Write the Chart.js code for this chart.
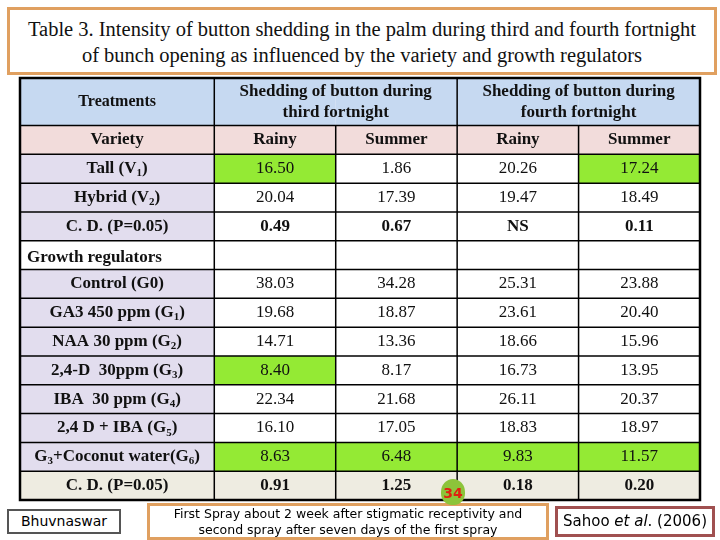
<!DOCTYPE html>
<html>
<head>
<meta charset="utf-8">
<script src="https://cdn.jsdelivr.net/npm/chart.js@4"></script>
<style>
  body { margin: 0; background: #fff; }
  #wrap { position: relative; width: 720px; height: 540px; }
  canvas { position: absolute; left: 0; top: 0; }
  .box { position: absolute; background: #fff; text-align: center; box-sizing: border-box; }
  #title { left: 7px; top: 7px; width: 710px; height: 68px; border: 3px solid #e0a060;
           font: 20.5px "Liberation Serif", serif; line-height: 26px; padding-top: 6px; color: #111; }
  #place { left: 7px; top: 509px; width: 114px; height: 25px; border: 2px solid #555;
           font: 14px "DejaVu Sans", sans-serif; line-height: 21px; }
  #note { left: 147px; top: 503px; width: 402px; height: 37px; border: 3px solid #e0a060;
          font: 12.5px "DejaVu Sans", sans-serif; line-height: 16px; }
  #ref { left: 555px; top: 506px; width: 160px; height: 31px; border: 3px solid #a05050;
         font: 15px "DejaVu Sans", sans-serif; line-height: 25px; }
  #page { left: 441px; top: 479px; width: 24px; height: 26px; border-radius: 50% 50% 45% 45%;
          background: #8cc43a; color: #e02010; font: bold 14px "DejaVu Sans", sans-serif; line-height: 28px; }
</style>
</head>
<body>
<div id="wrap">
  <canvas id="tbl" width="720" height="540"></canvas>
  <div class="box" id="title">Table 3. Intensity of button shedding in the palm during third and fourth fortnight<br>of bunch opening as influenced by the variety and growth regulators</div>
  <div class="box" id="place">Bhuvnaswar</div>
  <div class="box" id="note">First Spray about 2 week after stigmatic receptivity and<br>second spray after seven days of the first spray</div>
  <div class="box" id="ref">Sahoo <i>et al</i>. (2006)</div>
  <div class="box" id="page">34</div>
</div>
<script>
// table content
var groupHeaders = ["Shedding of button during\nthird fortnight", "Shedding of button during\nfourth fortnight"];
var seasons = ["Rainy", "Summer", "Rainy", "Summer"];
var treatments = ["Tall (V_1)", "Hybrid (V_2)", "C. D. (P=0.05)", "Growth regulators",
  "Control (G0)", "GA3 450 ppm (G_1)", "NAA 30 ppm (G_2)", "2,4-D  30ppm (G_3)", "IBA  30 ppm (G_4)",
  "2,4 D + IBA (G_5)", "G_3+Coconut water(G_6)", "C. D. (P=0.05)"];
var rainy3 = ["16.50", "20.04", "0.49", "", "38.03", "19.68", "14.71", "8.40", "22.34", "16.10", "8.63", "0.91"];
var summer3 = ["1.86", "17.39", "0.67", "", "34.28", "18.87", "13.36", "8.17", "21.68", "17.05", "6.48", "1.25"];
var rainy4 = ["20.26", "19.47", "NS", "", "25.31", "23.61", "18.66", "16.73", "26.11", "18.83", "9.83", "0.18"];
var summer4 = ["17.24", "18.49", "0.11", "", "23.88", "20.40", "15.96", "13.95", "20.37", "18.97", "11.57", "0.20"];
// cells marked green in the source
var highlighted = [[0, 0], [0, 3], [7, 0], [10, 0], [10, 1], [10, 2], [10, 3]];

var columns = [rainy3, summer3, rainy4, summer4];
var colEdges = [0, 1.6, 2.6, 3.6, 4.6, 5.6];
var headH = 1.65;
var SERIF = '"Liberation Serif", "Times New Roman", serif';
var FS = 17;

function rowTop(r) { return r === 0 ? 0 : headH + (r - 1); } // r: 0 header, 1 variety, 2.. rows
function rowBot(r) { return r === 0 ? headH : headH + r; }

function drawRich(ctx, txt, cx, cy, size, bold, align) {
  var parts = txt.split(/(_\d)/).filter(function (p) { return p; });
  var f = (bold ? 'bold ' : '') + size + 'px ' + SERIF;
  var fs = (bold ? 'bold ' : '') + Math.round(size * 0.65) + 'px ' + SERIF;
  var w = 0;
  parts.forEach(function (p) {
    ctx.font = p[0] === '_' ? fs : f;
    w += ctx.measureText(p[0] === '_' ? p.slice(1) : p).width;
  });
  var x = align === 'left' ? cx : cx - w / 2;
  ctx.textAlign = 'left';
  ctx.textBaseline = 'middle';
  parts.forEach(function (p) {
    if (p[0] === '_') {
      ctx.font = fs; ctx.fillText(p.slice(1), x, cy + size * 0.28);
      x += ctx.measureText(p.slice(1)).width;
    } else {
      ctx.font = f; ctx.fillText(p, x, cy);
      x += ctx.measureText(p).width;
    }
  });
}

var tablePlugin = {
  id: 'tablePlugin',
  afterDraw: function (chart) {
    var ctx = chart.ctx, xs = chart.scales.x, ys = chart.scales.y;
    var X = function (v) { return xs.getPixelForValue(v); };
    var Y = function (v) { return ys.getPixelForValue(v); };
    var nRows = treatments.length + 2;
    ctx.save();
    function cell(c0, c1, r, fill) {
      ctx.fillStyle = fill;
      ctx.fillRect(X(colEdges[c0]), Y(rowTop(r)), X(colEdges[c1]) - X(colEdges[c0]), Y(rowBot(r)) - Y(rowTop(r)));
    }
    // backgrounds
    for (var r = 0; r < nRows; r++) {
      for (var c = 0; c < 5; c++) {
        var fill = '#ffffff';
        if (r === 0) fill = '#c6d9f1';
        else if (r === 1) fill = '#f2dcdb';
        else if (r === nRows - 1) fill = '#eeece1';
        else if (c === 0) fill = treatments[r - 2] === 'Growth regulators' ? '#ffffff' : '#e2ddee';
        cell(c, c + 1, r, fill);
      }
    }
    highlighted.forEach(function (h) { cell(h[1] + 1, h[1] + 2, h[0] + 2, '#94ea34'); });
    // grid lines
    ctx.strokeStyle = '#000'; ctx.lineWidth = 1.5;
    for (r = 0; r <= nRows; r++) {
      var yy = Y(r === 0 ? 0 : rowBot(r - 1));
      ctx.beginPath(); ctx.moveTo(X(0), yy); ctx.lineTo(X(colEdges[5]), yy); ctx.stroke();
    }
    colEdges.forEach(function (e, i) {
      ctx.beginPath();
      ctx.moveTo(X(e), Y(i === 2 || i === 4 ? headH : 0));
      ctx.lineTo(X(e), Y(rowBot(nRows - 1)));
      ctx.stroke();
    });
    ctx.lineWidth = 2.5;
    ctx.strokeRect(X(0), Y(0), X(colEdges[5]) - X(0), Y(rowBot(nRows - 1)) - Y(0));
    // texts
    ctx.fillStyle = '#111';
    var mid = function (a, b) { return (a + b) / 2; };
    drawRich(ctx, 'Treatments', X(mid(colEdges[0], colEdges[1])), Y(headH / 2), 16, true);
    groupHeaders.forEach(function (g, i) {
      var cx = X(mid(colEdges[1 + 2 * i], colEdges[3 + 2 * i]));
      g.split('\n').forEach(function (ln, k) { drawRich(ctx, ln, cx, Y(headH / 2) + (k - 0.5) * 21, FS, true); });
    });
    drawRich(ctx, 'Variety', X(mid(colEdges[0], colEdges[1])), Y(mid(rowTop(1), rowBot(1))), FS, true);
    seasons.forEach(function (s, i) {
      drawRich(ctx, s, X(mid(colEdges[i + 1], colEdges[i + 2])), Y(mid(rowTop(1), rowBot(1))), FS, true);
    });
    treatments.forEach(function (t, i) {
      var r = i + 2, cy = Y(mid(rowTop(r), rowBot(r))) + (t === 'Growth regulators' ? 2 : 0);
      if (t === 'Growth regulators') drawRich(ctx, t, X(0) + 7, cy, FS, true, 'left');
      else drawRich(ctx, t, X(mid(colEdges[0], colEdges[1])), cy, FS, true);
      var bold = t.indexOf('C. D.') === 0;
      columns.forEach(function (col, c) {
        drawRich(ctx, col[i], X(mid(colEdges[c + 1], colEdges[c + 2])), cy, FS, bold);
      });
    });
    ctx.restore();
  }
};

new Chart(document.getElementById('tbl'), {
  type: 'scatter',
  data: { datasets: [{ data: [] }] },
  options: {
    responsive: false,
    animation: false,
    events: [],
    layout: { padding: { left: 20, right: 20, top: 78, bottom: 40 } },
    plugins: { legend: { display: false }, tooltip: { enabled: false } },
    scales: {
      x: { type: 'linear', min: 0, max: 5.6, display: false },
      y: { type: 'linear', min: 0, max: headH + 13, reverse: true, display: false }
    }
  },
  plugins: [tablePlugin]
});
</script>
</body>
</html>
